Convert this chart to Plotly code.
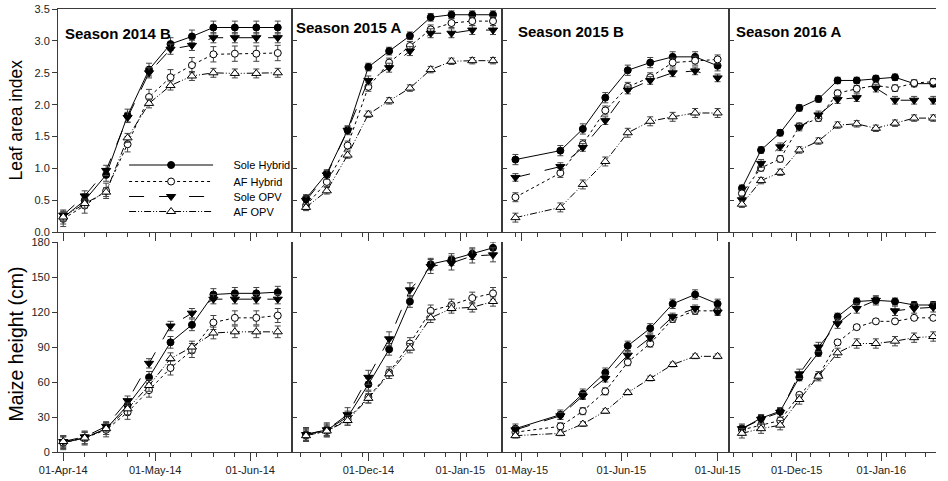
import plotly.graph_objects as go
from plotly.subplots import make_subplots

SERIES = ["Sole Hybrid", "AF Hybrid", "Sole OPV", "AF OPV"]
SEASONS = ["Season 2014 B", "Season 2015 A", "Season 2015 B", "Season 2016 A"]

# ---------------- Season 2014 B ----------------
DATES_14B = ["2014-04-01", "2014-04-08", "2014-04-15", "2014-04-22", "2014-04-29", "2014-05-06",
             "2014-05-13", "2014-05-20", "2014-05-27", "2014-06-03", "2014-06-10"]
LAI_14B_SH = [0.23, 0.50, 0.90, 1.83, 2.55, 2.95, 3.07, 3.21, 3.21, 3.21, 3.21]
LAI_14B_AFH = [0.21, 0.42, 0.65, 1.38, 2.12, 2.43, 2.62, 2.79, 2.80, 2.80, 2.81]
LAI_14B_SOPV = [0.27, 0.57, 0.97, 1.80, 2.50, 2.87, 2.93, 3.05, 3.05, 3.05, 3.05]
LAI_14B_AFOPV = [0.24, 0.45, 0.63, 1.48, 2.02, 2.30, 2.45, 2.50, 2.49, 2.49, 2.50]
HT_14B_SH = [8, 12, 20, 40, 64, 94, 109, 135, 136, 136, 137]
HT_14B_AFH = [8, 12, 19, 34, 53, 72, 87, 111, 115, 115, 117]
HT_14B_SOPV = [9, 13, 22, 44, 76, 108, 119, 131, 131, 131, 131]
HT_14B_AFOPV = [9, 12, 20, 37, 57, 80, 90, 102, 103, 103, 103]
ERR_LAI_14B = [0.10, 0.12, 0.08, 0.07]
ERR_HT_14B = [5, 6, 4, 5]

# ---------------- Season 2015 A ----------------
DATES_15A = ["2014-11-10", "2014-11-17", "2014-11-24", "2014-12-01", "2014-12-08", "2014-12-15",
             "2014-12-22", "2014-12-29", "2015-01-05", "2015-01-12"]
LAI_15A_SH = [0.53, 0.92, 1.60, 2.59, 2.84, 3.08, 3.37, 3.41, 3.41, 3.41]
LAI_15A_AFH = [0.42, 0.79, 1.36, 2.28, 2.66, 2.92, 3.18, 3.28, 3.31, 3.31]
LAI_15A_SOPV = [0.50, 0.90, 1.60, 2.38, 2.58, 2.84, 3.12, 3.12, 3.17, 3.17]
LAI_15A_AFOPV = [0.39, 0.65, 1.21, 1.85, 2.06, 2.26, 2.55, 2.68, 2.69, 2.69]
HT_15A_SH = [15, 19, 30, 58, 88, 129, 161, 165, 170, 175]
HT_15A_AFH = [14, 18, 28, 47, 68, 93, 121, 126, 132, 136]
HT_15A_SOPV = [15, 19, 32, 64, 97, 139, 159, 162, 168, 169]
HT_15A_AFOPV = [14, 18, 27, 46, 67, 89, 115, 123, 124, 129]
ERR_LAI_15A = [0.06, 0.07, 0.07, 0.05]
ERR_HT_15A = [5, 5, 6, 4]

# ---------------- Season 2015 B ----------------
DATES_15B = ["2015-04-29", "2015-05-13", "2015-05-20", "2015-05-27", "2015-06-03", "2015-06-10",
             "2015-06-17", "2015-06-24", "2015-07-01"]
LAI_15B_SH = [1.14, 1.28, 1.62, 2.11, 2.54, 2.66, 2.75, 2.75, 2.61]
LAI_15B_AFH = [0.55, 0.93, 1.38, 1.91, 2.28, 2.43, 2.66, 2.69, 2.71]
LAI_15B_SOPV = [0.86, 1.03, 1.33, 1.75, 2.23, 2.38, 2.50, 2.53, 2.42]
LAI_15B_AFOPV = [0.23, 0.39, 0.75, 1.11, 1.56, 1.74, 1.81, 1.87, 1.87]
HT_15B_SH = [20, 32, 50, 68, 91, 106, 127, 135, 127]
HT_15B_AFH = [17, 22, 35, 52, 77, 93, 114, 121, 121]
HT_15B_SOPV = [19, 31, 48, 63, 83, 98, 116, 123, 120]
HT_15B_AFOPV = [14, 16, 24, 35, 51, 63, 75, 82, 82]
ERR_LAI_15B = [0.08, 0.07, 0.06, 0.07]
ERR_HT_15B = [4, 3, 3, 2]

# ---------------- Season 2016 A ----------------
DATES_16A = ["2015-11-11", "2015-11-18", "2015-11-25", "2015-12-02", "2015-12-09", "2015-12-16",
             "2015-12-23", "2015-12-30", "2016-01-06", "2016-01-13", "2016-01-20"]
LAI_16A_SH = [0.69, 1.29, 1.56, 1.95, 2.09, 2.38, 2.38, 2.41, 2.43, 2.33, 2.33]
LAI_16A_AFH = [0.61, 1.01, 1.15, 1.66, 1.79, 2.18, 2.25, 2.30, 2.26, 2.34, 2.36]
LAI_16A_SOPV = [0.51, 1.08, 1.34, 1.65, 1.84, 2.08, 2.11, 2.26, 2.07, 2.07, 2.07]
LAI_16A_AFOPV = [0.44, 0.81, 0.94, 1.29, 1.43, 1.68, 1.70, 1.63, 1.71, 1.79, 1.79]
HT_16A_SH = [20, 29, 35, 64, 85, 116, 129, 130, 129, 126, 126]
HT_16A_AFH = [19, 23, 27, 49, 65, 94, 107, 112, 112, 115, 115]
HT_16A_SOPV = [20, 28, 34, 67, 90, 110, 123, 130, 121, 123, 124]
HT_16A_AFOPV = [16, 20, 23, 45, 65, 85, 93, 93, 95, 98, 99]
ERR_LAI_16A = [0.05, 0.05, 0.06, 0.05]
ERR_HT_16A = [3, 2, 4, 4]

PANELS = [
    (DATES_14B, [LAI_14B_SH, LAI_14B_AFH, LAI_14B_SOPV, LAI_14B_AFOPV],
     [HT_14B_SH, HT_14B_AFH, HT_14B_SOPV, HT_14B_AFOPV], ERR_LAI_14B, ERR_HT_14B),
    (DATES_15A, [LAI_15A_SH, LAI_15A_AFH, LAI_15A_SOPV, LAI_15A_AFOPV],
     [HT_15A_SH, HT_15A_AFH, HT_15A_SOPV, HT_15A_AFOPV], ERR_LAI_15A, ERR_HT_15A),
    (DATES_15B, [LAI_15B_SH, LAI_15B_AFH, LAI_15B_SOPV, LAI_15B_AFOPV],
     [HT_15B_SH, HT_15B_AFH, HT_15B_SOPV, HT_15B_AFOPV], ERR_LAI_15B, ERR_HT_15B),
    (DATES_16A, [LAI_16A_SH, LAI_16A_AFH, LAI_16A_SOPV, LAI_16A_AFOPV],
     [HT_16A_SH, HT_16A_AFH, HT_16A_SOPV, HT_16A_AFOPV], ERR_LAI_16A, ERR_HT_16A),
]

X_RANGES = [["2014-03-30 07:00", "2014-06-14 14:00"],
            ["2014-11-05 05:00", "2015-01-15 00:00"],
            ["2015-04-24 19:00", "2015-07-04 12:00"],
            ["2015-11-06 05:00", "2016-01-21 00:00"]]
MINOR_TICK0 = ["2014-04-01", "2014-11-08", "2015-04-29", "2015-11-08"]

STYLES = [
    dict(dash="solid", symbol="circle", fill="black", size=7),
    dict(dash="dot", symbol="circle", fill="white", size=7),
    dict(dash="longdash", symbol="triangle-down", fill="black", size=8),
    dict(dash="7px,2px,1px,2px,1px,2px", symbol="triangle-up", fill="white", size=8),
]

FONT = "Liberation Sans, Arial, sans-serif"
AX = "#3a3a3a"

fig = make_subplots(rows=2, cols=4, horizontal_spacing=0, vertical_spacing=0.02)

W, L = 890.0, 58.0
col_px = [(58, 295), (295, 508), (508, 738), (738, 948)]
col_dom = [[(a - L) / W, (b - L) / W] for a, b in col_px]
H, T = 443.0, 9.0
bottom_px = 452.0
row_dom = [[(bottom_px - 232.3) / H, 1.0], [0.0, (bottom_px - 242.0) / H]]

legend_names = ["legend", "legend2", "legend3", "legend4"]
PAD = "&nbsp;" * 5

for c, (dates, lai, ht, elai, eht) in enumerate(PANELS):
    for r, (vals, errs) in enumerate([(lai, elai), (ht, eht)]):
        for s in range(4):
            st = STYLES[s]
            show = (r == 0 and c == 0)
            fig.add_trace(go.Scatter(
                x=dates, y=vals[s], mode="lines+markers", name=PAD + SERIES[s],
                legendgroup=SERIES[s], showlegend=show, legend=legend_names[s],
                line=dict(color="black", width=1, dash=st["dash"]),
                marker=dict(symbol=st["symbol"], size=st["size"], color=st["fill"],
                            line=dict(color="black", width=1)),
                error_y=dict(type="constant", value=errs[s], color="#444", thickness=1, width=3),
            ), row=r + 1, col=c + 1)

for r in range(2):
    for c in range(4):
        n = r * 4 + c + 1
        xa = "xaxis" if n == 1 else f"xaxis{n}"
        ya = "yaxis" if n == 1 else f"yaxis{n}"
        fig.layout[xa].update(
            domain=col_dom[c], range=X_RANGES[c], type="date",
            showline=True, linecolor=AX, linewidth=1, mirror=(r == 0),
            showgrid=False, zeroline=False,
            ticks="outside", ticklen=8, tickcolor=AX, tickwidth=1,
            dtick="M1", tick0="2014-01-01", tickformat="%d-%b-%y",
            showticklabels=(r == 1),
            tickfont=dict(family=FONT, size=11, color="#222"),
            minor=dict(ticks="outside", ticklen=4, tickcolor=AX, tickwidth=1,
                       dtick=7 * 24 * 3600 * 1000, tick0=MINOR_TICK0[c], showgrid=False),
        )
        if r == 0:
            yr, dt, fmt = [0, 3.5], 0.5, ".1f"
        else:
            yr, dt, fmt = [0, 180], 30, "d"
        fig.layout[ya].update(
            domain=row_dom[r], range=yr, dtick=dt, tick0=0, tickformat=fmt,
            showline=True, linecolor=AX, linewidth=1, mirror=(c < 3),
            showgrid=False, zeroline=False,
            ticks="outside" if c == 0 else "inside", ticklen=5, tickcolor=AX,
            showticklabels=(c == 0),
            tickfont=dict(family=FONT, size=11, color="#222"),
        )

annotations = []
season_dx = [5, 2, 14, 5]
season_y = [33, 28, 32, 32]
for c in range(4):
    n = c + 1
    xr = "x domain" if n == 1 else f"x{n} domain"
    yr_ = "y domain" if n == 1 else f"y{n} domain"
    width = col_px[c][1] - col_px[c][0]
    annotations.append(dict(
        text=f"<b>{SEASONS[c]}</b>", xref=xr, yref=yr_,
        x=season_dx[c] / width, y=1 - (season_y[c] - T) / (232.3 - T),
        xanchor="left", yanchor="middle", showarrow=False,
        font=dict(family=FONT, size=15, color="black")))

annotations.append(dict(text="Leaf area index", xref="paper", yref="paper",
                        x=(15 - L) / W, y=1 - (120 - T) / H, textangle=-90,
                        xanchor="center", yanchor="middle", showarrow=False,
                        font=dict(family=FONT, size=17.5, color="black")))
annotations.append(dict(text="Maize height (cm)", xref="paper", yref="paper",
                        x=(15 - L) / W, y=1 - (344 - T) / H, textangle=-90,
                        xanchor="center", yanchor="middle", showarrow=False,
                        font=dict(family=FONT, size=19.5, color="black")))

legend_y_px = [165, 181.5, 196.5, 211.5]
layout_legends = {}
for i, ln in enumerate(legend_names):
    layout_legends[ln] = dict(
        x=(125 - L) / W, y=1 - (legend_y_px[i] - T) / H, xanchor="left", yanchor="middle",
        bgcolor="rgba(0,0,0,0)", borderwidth=0, itemwidth=84,
        font=dict(family=FONT, size=11, color="black"), tracegroupgap=0,
    )

fig.update_layout(
    width=948, height=481,
    margin=dict(l=L, r=0, t=T, b=481 - T - H),
    paper_bgcolor="white", plot_bgcolor="white",
    annotations=annotations,
    showlegend=True,
    **layout_legends,
)

fig.write_html("out.html", config={"displayModeBar": False},
               post_script="document.body.style.margin='0';document.body.style.overflow='hidden';")
